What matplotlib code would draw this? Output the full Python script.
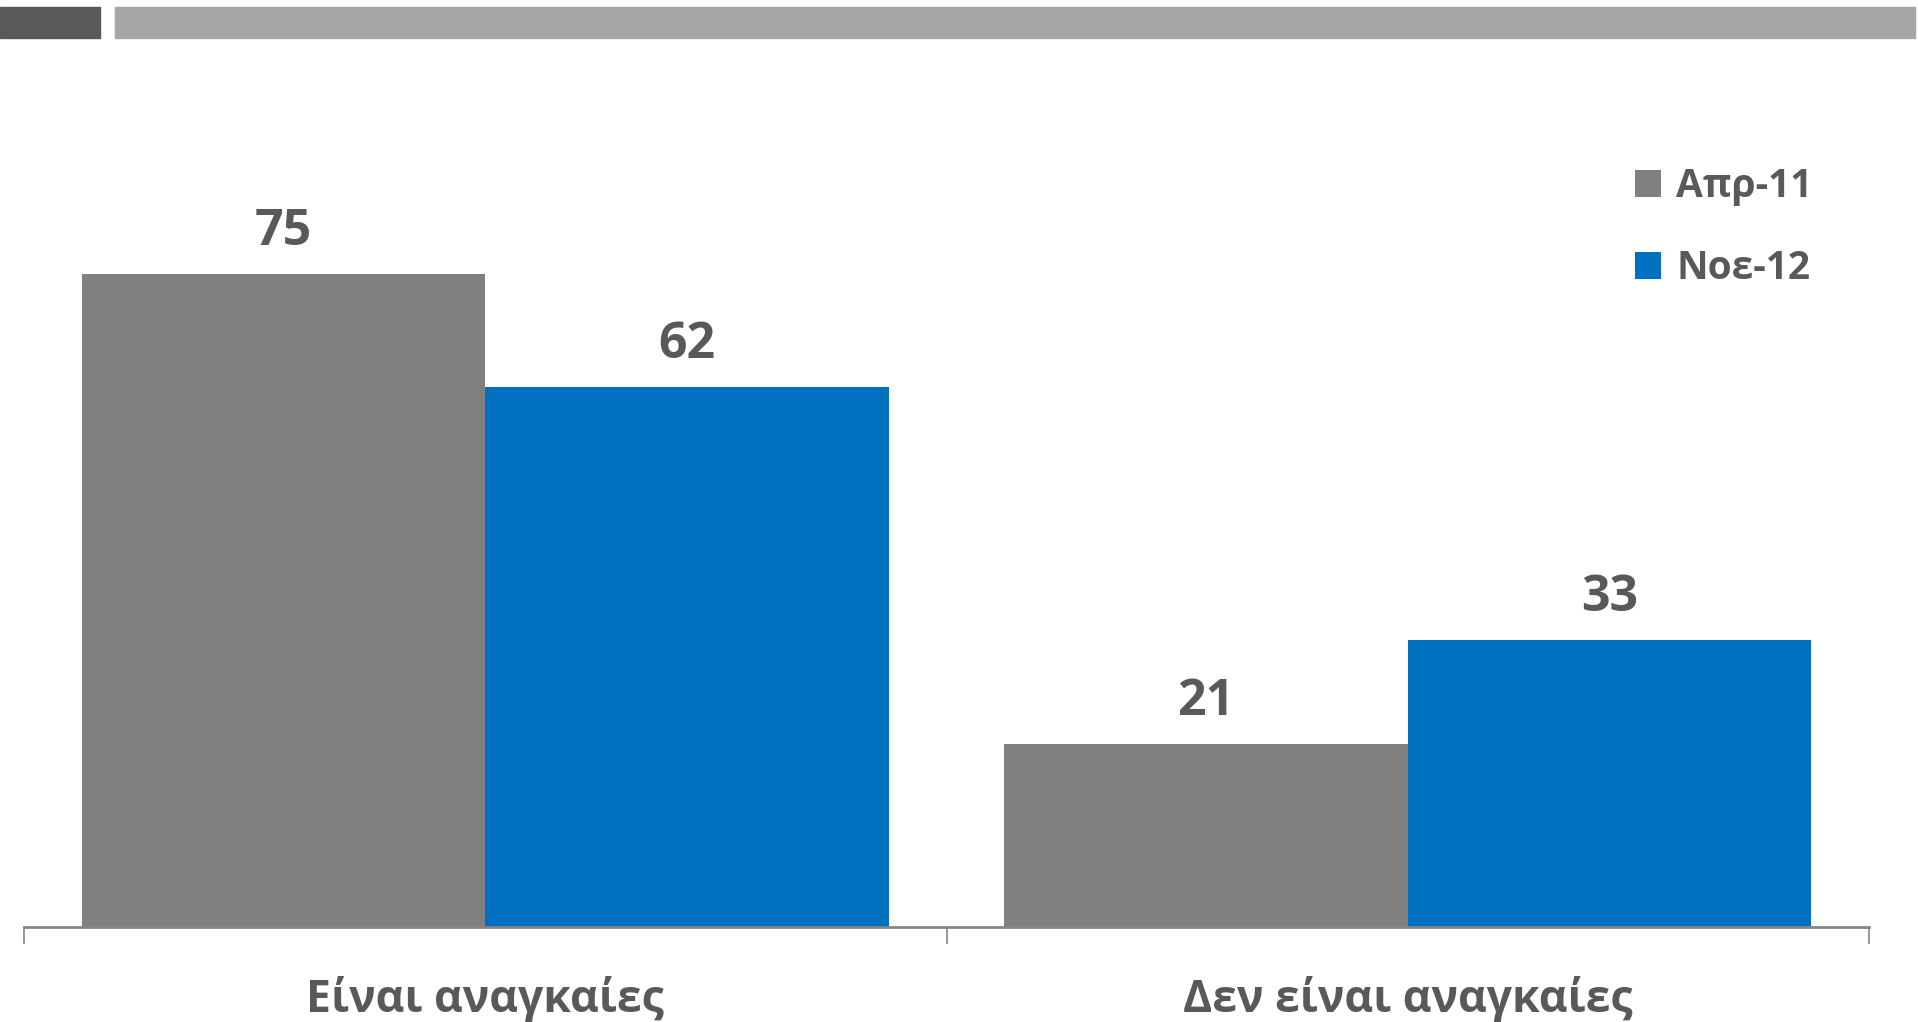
import matplotlib
matplotlib.use("Agg")
import matplotlib.pyplot as plt
from matplotlib.patches import Rectangle
import numpy as np

categories = ["Είναι αναγκαίες", "Δεν είναι αναγκαίες"]
series_names = ["Απρ-11", "Νοε-12"]
apr11 = [75, 21]
noe12 = [62, 33]
colors = ["#808080", "#0070C0"]
text_color = "#595959"

plt.rcParams['font.family'] = ['Open Sans', 'DejaVu Sans']

W, H = 1918, 1022
fig = plt.figure(figsize=(W/100, H/100), dpi=100)

# header bars
fig.patches.append(Rectangle((0, 1-38/H), 100/W, 31/H, transform=fig.transFigure, color="#595959", zorder=0))
fig.patches.append(Rectangle((115/W, 1-38/H), 1800/W, 31/H, transform=fig.transFigure, color="#A6A6A6", zorder=0))

ymax = 80
px_per_unit = 8.71
ax_bottom = 927
ax_h = ymax*px_per_unit
ax = fig.add_axes([24/W, 1-ax_bottom/H, (1869-24)/W, ax_h/H])

x = np.arange(len(categories))
bw = 0.4375
series = [apr11, noe12]
for i, (vals, c, name) in enumerate(zip(series, colors, series_names)):
    pos = x + (i-0.5)*bw
    bars = ax.bar(pos, vals, width=bw, color=c, label=name, zorder=2)
    for p, v in zip(pos, vals):
        ax.annotate(str(v), (p, v), xytext=(0, 12), textcoords="offset points",
                    ha="center", va="bottom", fontsize=36, fontweight="bold", color=text_color)

ax.set_xlim(-0.5, 1.5)
ax.set_ylim(0, ymax)
for s in ["top", "right", "left"]:
    ax.spines[s].set_visible(False)
ax.spines["bottom"].set_color("#868686")
ax.spines["bottom"].set_linewidth(2)
ax.set_yticks([])
ax.set_xticks([-0.5, 0.5, 1.5])
ax.set_xticklabels([])
ax.tick_params(axis="x", length=12, width=1.2, color="#868686", direction="out")
for xi, cat in zip(x, categories):
    ax.text(xi, -72/px_per_unit, cat, ha="center", va="center", fontsize=32,
            fontweight="bold", color=text_color, clip_on=False)

leg = fig.legend(loc="upper left", bbox_to_anchor=(1635/W, 1-167/H), frameon=False,
                 fontsize=28, handlelength=0.68, handleheight=0.68, handletextpad=0.38,
                 labelspacing=1.1, borderaxespad=0, borderpad=0)
for t in leg.get_texts():
    t.set_color(text_color)
    t.set_fontweight("bold")

fig.savefig("out.png", dpi=100, facecolor="white")
